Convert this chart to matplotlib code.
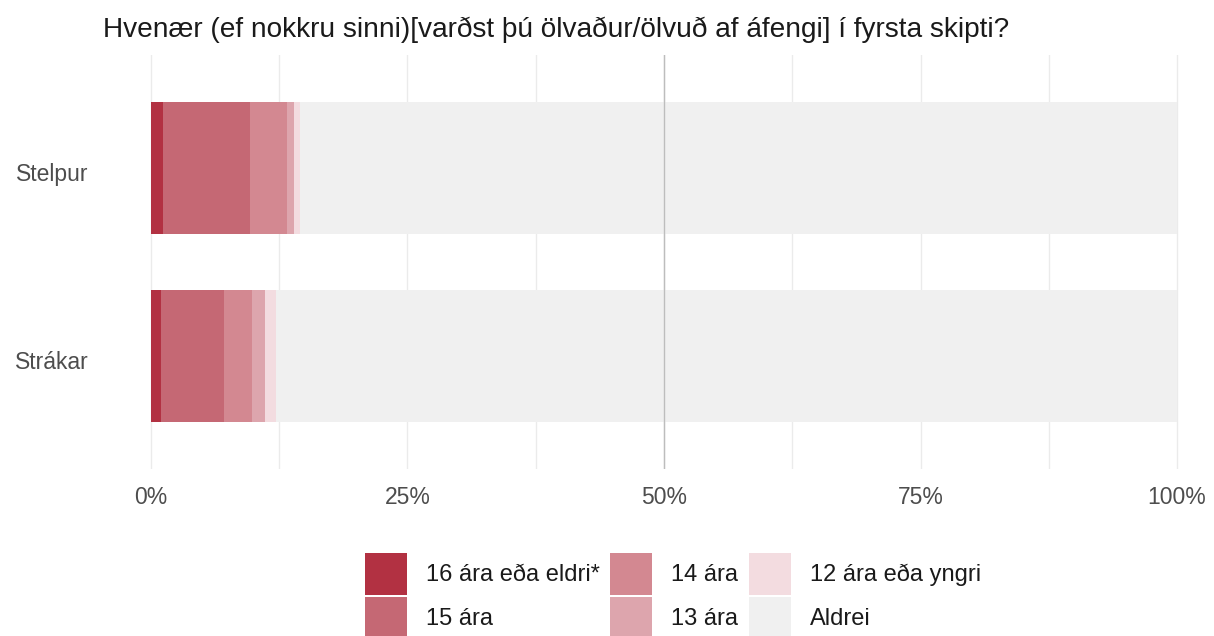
import numpy as np
import matplotlib.pyplot as plt
import matplotlib.transforms as mtransforms
from matplotlib.patches import Patch

plt.rcParams['font.family'] = ['Liberation Sans', 'DejaVu Sans']

groups = ["Stelpur", "Strákar"]
answers = ["16 ára eða eldri*", "15 ára", "14 ára", "13 ára", "12 ára eða yngri", "Aldrei"]
colors = ["#B23142", "#C56874", "#D38891", "#DDA5AD", "#F3DCE0", "#F0F0F0"]

# percent of respondents, per group (same order as answers)
stelpur = [1.15, 8.5, 3.6, 0.72, 0.55, 85.48]
strakar = [0.96, 6.14, 2.72, 1.27, 1.07, 87.84]
values = np.array([stelpur, strakar])

title = "Hvenær (ef nokkru sinni)[varðst þú ölvaður/ölvuð af áfengi] í fyrsta skipti?"

fig = plt.figure(figsize=(12.14, 6.36), dpi=100)
W, H = 1214, 636
ax = fig.add_axes([101 / W, 1 - 469 / H, 1 - 101 / W, (469 - 55) / H])

ypos = np.array([0, 1])
left = np.zeros(len(groups))
for i, ans in enumerate(answers):
    ax.barh(ypos, values[:, i], left=left, height=0.7, color=colors[i], zorder=2)
    left += values[:, i]

ax.set_xlim(-4.87, 103.6)
ax.set_ylim(1.6, -0.6)
ax.set_xticks([0, 25, 50, 75, 100])
ax.set_xticklabels(["0%", "25%", "50%", "75%", "100%"])
ax.set_xticks([12.5, 37.5, 62.5, 87.5], minor=True)
ax.set_yticks(ypos)
ax.set_yticklabels(groups)
ax.grid(axis="x", which="both", color="#EBEBEB", linewidth=1, zorder=0)
ax.axvline(50, color="#BDBDBD", linewidth=1, zorder=3)
for s in ax.spines.values():
    s.set_visible(False)
ax.tick_params(axis="both", which="both", length=0, labelsize=16.5, labelcolor="#4D4D4D")
ax.tick_params(axis="x", pad=12)
ax.tick_params(axis="y", pad=9)
# nudge the group labels down a little, like the original
shift = mtransforms.ScaledTranslation(0, -4 / 100, fig.dpi_scale_trans)
for lbl in ax.get_yticklabels():
    lbl.set_transform(lbl.get_transform() + shift)

fig.text(103 / W, 1 - 30 / H, title, fontsize=20.2, color="#1A1A1A", va="center", ha="left")

handles = [Patch(facecolor=c, edgecolor="none") for c in colors]
fig.legend(handles, answers, ncol=3, loc="upper left", bbox_to_anchor=(353 / W, 1 - 541 / H),
           frameon=False, fontsize=17, handlelength=1.78, handleheight=2.36,
           handletextpad=0.8, columnspacing=0.45, labelspacing=0.08, borderpad=0,
           labelcolor="#1A1A1A")

fig.savefig("out.png", dpi=100)
